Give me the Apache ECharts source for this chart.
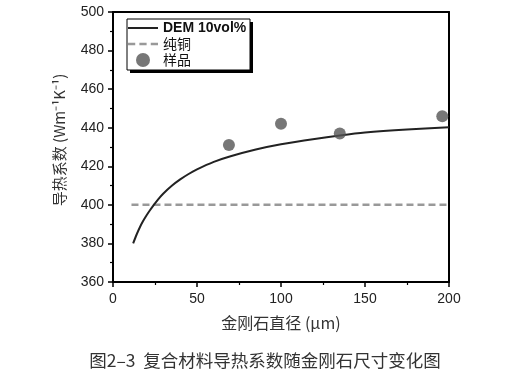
<!DOCTYPE html>
<html><head><meta charset="utf-8">
<script src="https://cdn.jsdelivr.net/npm/echarts@6/dist/echarts.min.js"></script>
<style>html,body{margin:0;padding:0;background:#fff}#c{width:530px;height:371px}</style>
</head><body><div id="c"></div>
<script>
var demX = [12, 14, 16, 18, 20, 22, 24, 27, 30, 35, 40, 45, 50, 60, 70, 85, 100, 120, 135, 150, 175, 200];
var demY = [380, 384.5, 388.4, 391.7, 394.6, 397.2, 399.6, 403, 405.9, 409.9, 413.2, 416, 418.4, 422.3, 425.2, 428.7, 431.4, 434.2, 436, 437.5, 439.1, 440.3];
var cuX = [11, 200];
var cuY = [400, 400];
var sampleX = [69, 100, 135, 196];
var sampleY = [431, 442, 437, 446];
var xTicks = [0, 50, 100, 150, 200];
var yTicks = [360, 380, 400, 420, 440, 460, 480, 500];

function pairs(a, b) { return a.map(function (v, i) { return [v, b[i]]; }); }

var font = 'Liberation Sans, Arial, Noto Sans CJK SC, sans-serif';
var cjk = 'Noto Sans CJK SC, sans-serif';
var chart = echarts.init(document.getElementById('c'));
chart.setOption({
  animation: false,
  backgroundColor: '#fff',
  title: {
    text: '图2–3  复合材料导热系数随金刚石尺寸变化图',
    left: 'center', top: 347,
    textStyle: { fontFamily: cjk, fontSize: 17.5, fontWeight: 'normal', color: '#333' }
  },
  graphic: [
    { type: 'rect', z: 5, shape: { x: 130, y: 22, width: 123, height: 51 }, style: { fill: '#000' } },
    { type: 'rect', z: 6, shape: { x: 127, y: 19, width: 123, height: 51 }, style: { fill: '#fff', stroke: '#000', lineWidth: 1 } }
  ],
  grid: { left: 113, right: 81, top: 12, bottom: 89 },
  legend: {
    orient: 'vertical', left: 128, top: 21, z: 10,
    padding: 0, itemGap: 2, itemWidth: 30, itemHeight: 14, itemTextGap: 8,
    textStyle: { fontFamily: font, fontSize: 14, color: '#111' },
    data: [
      { name: 'DEM 10vol%', icon: 'path://M0,0L30,0L30,2L0,2Z', textStyle: { fontWeight: 'bold', fontSize: 14 } },
      { name: '纯铜', icon: 'path://M0,0L7,0L7,2.5L0,2.5ZM11,0L18,0L18,2.5L11,2.5ZM22,0L29,0L29,2.5L22,2.5Z', textStyle: { fontFamily: cjk } },
      { name: '样品', icon: 'circle', textStyle: { fontFamily: cjk } }
    ]
  },
  xAxis: [{
    type: 'value', min: 0, max: 200, interval: 50,
    name: '金刚石直径 (μm)', nameLocation: 'middle', nameGap: 33,
    nameTextStyle: { fontFamily: cjk, fontSize: 16, color: '#333' },
    axisLine: { show: true, onZero: false, lineStyle: { color: '#000', width: 2 } },
    axisTick: { show: true, inside: false, length: 5, lineStyle: { color: '#000', width: 1.5 } },
    minorTick: { show: true, splitNumber: 2, length: 3, lineStyle: { color: '#000', width: 1.2 } },
    axisLabel: { fontFamily: font, fontSize: 14, color: '#222', margin: 10,
      formatter: function (v) { return xTicks.indexOf(v) >= 0 ? String(v) : ''; } },
    splitLine: { show: false }
  }, {
    type: 'value', min: 0, max: 200, position: 'top',
    axisLine: { show: true, onZero: false, lineStyle: { color: '#000', width: 2 } },
    axisTick: { show: false }, axisLabel: { show: false }, splitLine: { show: false }
  }],
  yAxis: [{
    type: 'value', min: 360, max: 500, interval: 20,
    name: '导热系数 (Wm⁻¹K⁻¹)', nameLocation: 'middle', nameGap: 46,
    nameTextStyle: { fontFamily: cjk, fontSize: 15, color: '#333', padding: [0, 0, 0, 14] },
    axisLine: { show: true, onZero: false, lineStyle: { color: '#000', width: 2 } },
    axisTick: { show: true, inside: false, length: 5, lineStyle: { color: '#000', width: 1.5 } },
    minorTick: { show: true, splitNumber: 2, length: 3, lineStyle: { color: '#000', width: 1.2 } },
    axisLabel: { fontFamily: font, fontSize: 14, color: '#222', margin: 9,
      formatter: function (v) { return yTicks.indexOf(v) >= 0 ? String(v) : ''; } },
    splitLine: { show: false }
  }, {
    type: 'value', min: 360, max: 500, position: 'right',
    axisLine: { show: true, onZero: false, lineStyle: { color: '#000', width: 2 } },
    axisTick: { show: false }, axisLabel: { show: false }, splitLine: { show: false }
  }],
  series: [
    { name: 'DEM 10vol%', type: 'line', smooth: 0.3, symbol: 'none',
      data: pairs(demX, demY), itemStyle: { color: '#222' },
      lineStyle: { color: '#222', width: 2 }, z: 3 },
    { name: '纯铜', type: 'line', symbol: 'none',
      data: pairs(cuX, cuY), itemStyle: { color: '#999' },
      lineStyle: { color: '#999', width: 2.5, type: [7, 4] }, z: 2 },
    { name: '样品', type: 'scatter', symbol: 'circle', symbolSize: 12,
      data: pairs(sampleX, sampleY), itemStyle: { color: '#555' }, z: 4 }
  ]
});
</script></body></html>
